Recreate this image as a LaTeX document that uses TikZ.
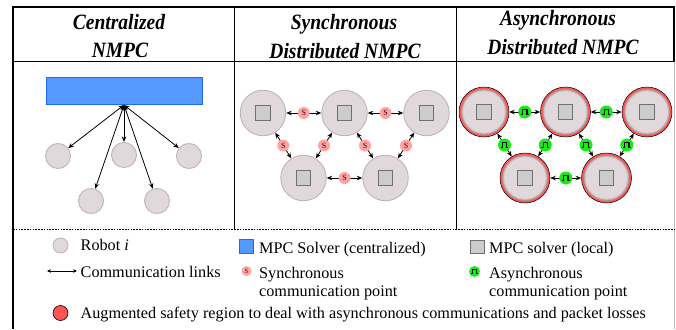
\documentclass[tikz,border=0pt]{standalone}
\usepackage{fontspec}
\setmainfont{Liberation Serif}
\usepackage{graphicx}
\usetikzlibrary{arrows.meta}
\definecolor{robotfill}{HTML}{E0D8DA}
\definecolor{robotdraw}{HTML}{C2B3B4}
\definecolor{solverblue}{HTML}{5599FF}
\definecolor{solverdraw}{HTML}{1F6BEE}
\definecolor{sqfill}{HTML}{CCCCCC}
\definecolor{sqdraw}{HTML}{707070}
\definecolor{spink}{HTML}{FFA3A3}
\definecolor{sgreen}{HTML}{11EE11}
\definecolor{ringred}{HTML}{FF5555}
\definecolor{ringa}{HTML}{ABA2A3}
\definecolor{ringb}{HTML}{C9C0C1}
\definecolor{framegray}{HTML}{BBBBBB}
\newcommand{\hdr}[1]{\scalebox{1}[1.12]{\fontsize{19.5}{21}\selectfont\bfseries\itshape #1}}
\begin{document}
\begin{tikzpicture}[x=1pt,y=-1pt,
  robot/.style={circle,inner sep=0pt,minimum size=25pt,fill=robotfill,draw=robotdraw,line width=0.9pt},
  bigrobot/.style={circle,inner sep=0pt,minimum size=45.5pt,fill=robotfill,draw=robotdraw,line width=0.9pt},
  asyncrobot/.style={circle,inner sep=0pt,minimum size=50pt,fill=ringred,draw=black,line width=0.5pt,
    path picture={
      \fill[ringa] (path picture bounding box.center) circle[radius=22.8pt];
      \fill[ringb] (path picture bounding box.center) circle[radius=21.8pt];
      \fill[robotfill] (path picture bounding box.center) circle[radius=20.8pt];}},
  localsq/.style={rectangle,inner sep=0pt,minimum size=14.5pt,fill=sqfill,draw=sqdraw,line width=1.3pt},
  solver/.style={rectangle,inner sep=0pt,fill=solverblue,draw=solverdraw,line width=0.8pt},
  snode/.style={circle,inner sep=0pt,minimum size=12pt,fill=spink,font=\fontsize{8}{8}\selectfont,text=black!80!red},
  anode/.style={circle,inner sep=0pt,minimum size=13pt,fill=sgreen},
  link/.style={{Stealth[length=5.5pt,width=4.5pt]}-{Stealth[length=5.5pt,width=4.5pt]},line width=0.8pt,black},
  pulse/.style={line width=1.1pt,black},
  legtext/.style={anchor=base west,inner sep=0pt,font=\fontsize{16.2}{18.5}\selectfont,align=left},
  hdrtext/.style={anchor=base,inner sep=0pt}
]
\useasboundingbox (0,0) rectangle (676,329);
% frame
\draw[line width=1.1pt] (13,329) -- (13,7) -- (674,7) -- (674,61.5);
\draw[line width=0.8pt,framegray] (674,61.5) -- (674,329);
\draw[line width=1.1pt] (13,61.5) -- (674,61.5);
\draw[line width=0.9pt] (234,7) -- (234,229);
\draw[line width=0.9pt] (456,7) -- (456,229);
\draw[line width=0.8pt,dash pattern=on 1.6pt off 1.2pt] (13,229) -- (674,229);
% headers
\node[hdrtext] (h1a) at (119,30) {\hdr{Centralized}};
\node[hdrtext] (h1b) at (120,57) {\hdr{NMPC}};
\node[hdrtext] (h2a) at (344,30) {\hdr{Synchronous}};
\node[hdrtext] (h2b) at (345,58) {\hdr{Distributed NMPC}};
\node[hdrtext] (h3a) at (558,26) {\hdr{Asynchronous}};
\node[hdrtext] (h3b) at (563,54) {\hdr{Distributed NMPC}};
% centralized
\node[solver,minimum width=156pt,minimum height=27pt] (blue) at (124,91) {};
\coordinate (hub) at (124,105);
\node[robot] (c1) at (58,156) {};
\node[robot] (c2) at (124,155) {};
\node[robot] (c3) at (189,156) {};
\node[robot] (c4) at (91,201) {};
\node[robot] (c5) at (157,201) {};
\foreach \c in {c1,c2,c3,c4,c5} \draw[link] (hub) -- (\c);
% synchronous
\node[bigrobot] (r1) at (263,113) {};
\node[bigrobot] (r2) at (344.5,113) {};
\node[bigrobot] (r3) at (426.5,113) {};
\node[bigrobot] (r4) at (303.5,178) {};
\node[bigrobot] (r5) at (385.5,178) {};
\foreach \r in {r1,r2,r3,r4,r5} \node[localsq] (\r s) at (\r) {};
\draw[link] (r1) -- (r2) node[midway,snode] (s12) {S};
\draw[link] (r2) -- (r3) node[midway,snode] (s23) {S};
\draw[link] (r1) -- (r4) node[midway,snode] (s14) {S};
\draw[link] (r2) -- (r4) node[midway,snode] (s24) {S};
\draw[link] (r2) -- (r5) node[midway,snode] (s25) {S};
\draw[link] (r3) -- (r5) node[midway,snode] (s35) {S};
\draw[link] (r4) -- (r5) node[midway,snode] (s45) {S};
% asynchronous
\node[asyncrobot] (a1) at (484,112) {};
\node[asyncrobot] (a2) at (565.5,112) {};
\node[asyncrobot] (a3) at (647,112) {};
\node[asyncrobot] (a4) at (525,178) {};
\node[asyncrobot] (a5) at (606.5,178) {};
\foreach \r in {a1,a2,a3,a4,a5} \node[localsq] (\r s) at (\r) {};
\draw[link] (a1) -- (a2) node[midway,anode] (g12) {};
\draw[link] (a2) -- (a3) node[midway,anode] (g23) {};
\draw[link] (a1) -- (a4) node[midway,anode] (g14) {};
\draw[link] (a2) -- (a4) node[midway,anode] (g24) {};
\draw[link] (a2) -- (a5) node[midway,anode] (g25) {};
\draw[link] (a3) -- (a5) node[midway,anode] (g35) {};
\draw[link] (a4) -- (a5) node[midway,anode] (g45) {};
% legend
\node[robot,minimum size=15pt] (lrobot) at (60.5,245.5) {};
\node[legtext] (trobot) at (80.5,250.5) {Robot \textit{i}};
\node[solver,minimum size=14pt] (lblue) at (246.5,246.5) {};
\node[legtext] (tblue) at (259,253) {MPC Solver (centralized)};
\node[localsq,minimum size=13.5pt,line width=1.2pt] (lsq) at (477.5,247) {};
\node[legtext] (tsq) at (489,253) {MPC solver (local)};
\coordinate (la) at (47,271);
\coordinate (lb) at (77,271);
\draw[{Stealth[length=4pt,width=3.5pt]}-{Stealth[length=4pt,width=3.5pt]},line width=0.7pt] (la) -- (lb);
\node[legtext] (tlink) at (80.5,277) {Communication links};
\node[snode,minimum size=10pt,font=\fontsize{6.5}{6.5}\selectfont] (ls) at (246.5,271) {S};
\node[legtext] (ts) at (259,296.5) {Synchronous\\communication point};
\node[anode,minimum size=11pt] (lg) at (474.5,271.5) {};
\node[legtext] (tg) at (489,296.5) {Asynchronous\\communication point};
\node[circle,inner sep=0pt,minimum size=15pt,fill=ringred,draw=black,line width=0.6pt] (lred) at (60.5,313) {};
\node[legtext] (tred) at (80.5,318.5) {Augmented safety region to deal with asynchronous communications and packet losses};
% pulse symbols
\foreach \n in {g12,g23,g14,g24,g25,g35,g45}
  \draw[pulse] ([shift={(-3.8,2.8)}]\n.center) -- ++(1.6,0) -- ++(0,-5.6) -- ++(4.4,0) -- ++(0,5.6) -- ++(1.6,0);
\draw[line width=0.9pt] ([shift={(-3.1,2.3)}]lg.center) -- ++(1.3,0) -- ++(0,-4.6) -- ++(3.6,0) -- ++(0,4.6) -- ++(1.3,0);
\end{tikzpicture}
\end{document}
